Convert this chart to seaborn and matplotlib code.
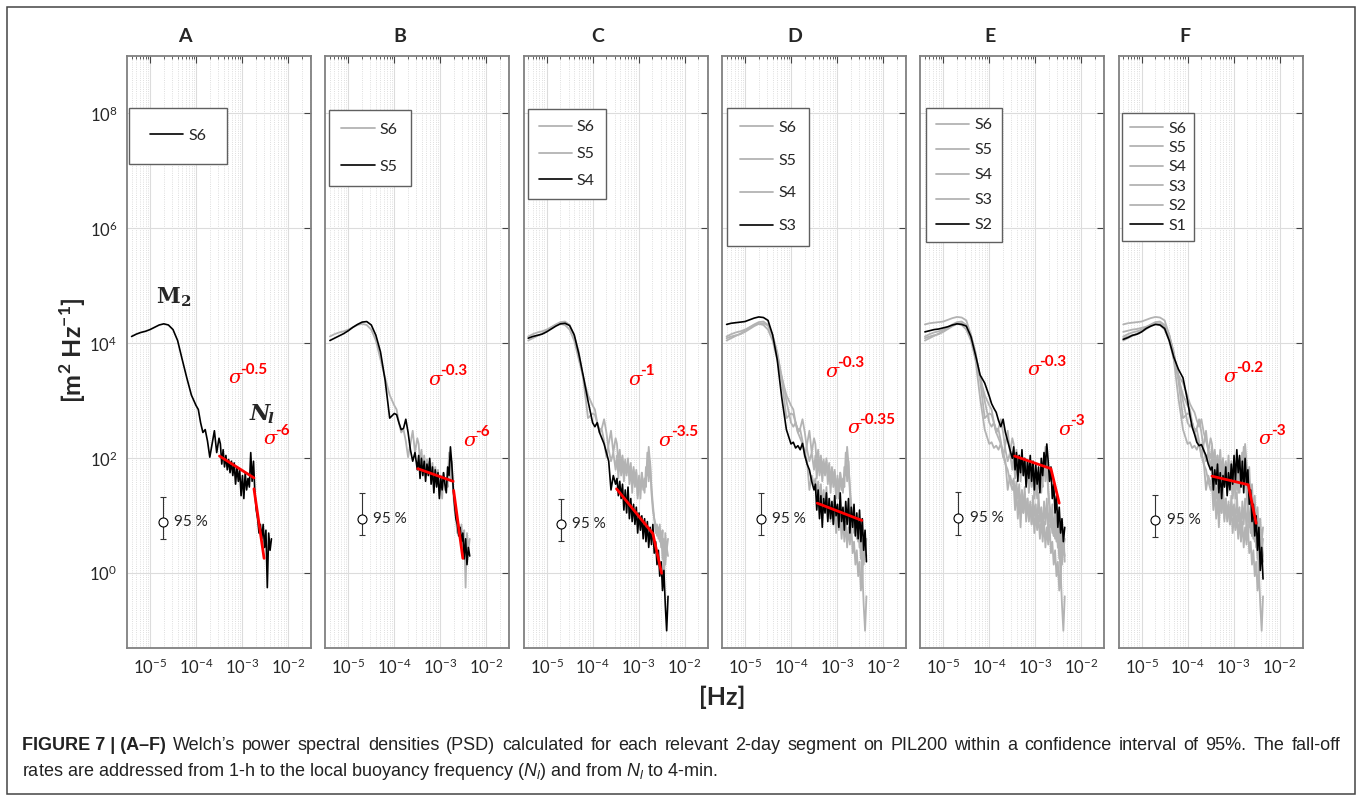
import numpy as np
import pandas as pd
import matplotlib
matplotlib.use('Agg')
import matplotlib.pyplot as plt
import seaborn as sns
from matplotlib.ticker import LogLocator, LogFormatterSciNotation, NullLocator, NullFormatter
from matplotlib.patches import Rectangle

# frequency axis of the Welch spectra, log10 [Hz]
log_freq = [-5.4, -5.3, -5.2, -5.1, -5.0, -4.9, -4.8, -4.7, -4.6, -4.5, -4.4, -4.3, -4.2,
            -4.1, -4.0, -3.95, -3.9, -3.85, -3.8, -3.75, -3.7, -3.65, -3.6, -3.55, -3.5,
            -3.47, -3.44, -3.41, -3.38, -3.35, -3.32, -3.29, -3.26, -3.23, -3.20, -3.17, -3.14,
            -3.11, -3.08, -3.05, -3.02, -2.99, -2.96, -2.93, -2.90, -2.87, -2.84, -2.81, -2.78,
            -2.75, -2.72, -2.69, -2.66, -2.63, -2.60, -2.57, -2.54, -2.51, -2.48, -2.45, -2.42,
            -2.39, -2.36]

# PSD per 2-day segment, log10 [m2 Hz-1]
psd_s6 = [4.12, 4.16, 4.19, 4.21, 4.24, 4.28, 4.32, 4.34, 4.32, 4.24, 4.05, 3.72, 3.40,
          3.10, 2.92, 2.85, 2.62, 2.45, 2.50, 2.30, 2.02, 2.25, 2.48, 2.10, 2.35,
          2.25, 1.90, 2.15, 1.85, 2.05, 1.80, 1.98, 1.75, 1.95, 1.70, 1.92, 1.55,
          1.85, 1.60, 1.80, 1.35, 1.70, 1.30, 1.75, 1.45, 1.65, 1.50, 2.10, 1.60,
          1.95, 1.40, 1.10, 0.95, 0.70, 0.85, 0.60, 0.85, 0.45, 0.75, -0.25, 0.70,
          0.40, 0.60]
psd_s5 = [4.05, 4.09, 4.13, 4.17, 4.22, 4.28, 4.33, 4.37, 4.38, 4.32, 4.14, 3.85, 3.36,
          2.70, 2.78, 2.76, 2.62, 2.50, 2.52, 2.68, 2.45, 2.15, 1.95, 2.10, 1.80,
          2.05, 1.65, 2.00, 1.70, 1.95, 1.60, 1.90, 1.70, 2.00, 1.55, 1.85, 1.40,
          1.80, 1.50, 1.75, 1.30, 1.65, 1.45, 1.75, 1.55, 1.40, 1.85, 1.70, 2.20,
          1.90, 1.50, 1.20, 0.95, 0.85, 0.65, 0.80, 0.55, 0.70, 0.25, 0.60, 0.15,
          0.45, 0.30]
psd_s4 = [4.09, 4.12, 4.14, 4.16, 4.20, 4.25, 4.30, 4.34, 4.35, 4.31, 4.15, 3.82, 3.42,
          3.00, 2.62, 2.55, 2.62, 2.45, 2.35, 2.25, 2.10, 1.95, 1.45, 1.70, 1.55,
          1.65, 1.35, 1.60, 1.30, 1.55, 1.10, 1.45, 1.05, 1.50, 0.95, 1.30, 0.90,
          1.20, 0.85, 1.15, 0.70, 1.05, 0.75, 1.00, 0.60, 0.95, 0.55, 0.90, 0.45,
          0.80, 0.50, 0.85, 0.35, 0.55, 0.15, 0.40, -0.05, 0.20, -0.30, 0.05, -0.55,
          -1.00, -0.40]
psd_s3 = [4.33, 4.35, 4.36, 4.37, 4.38, 4.41, 4.44, 4.46, 4.45, 4.40, 4.15, 3.72, 3.05,
          2.50, 2.25, 2.28, 2.18, 2.22, 2.15, 2.26, 2.05, 1.90, 1.80, 1.60, 1.45,
          1.55, 1.10, 1.45, 0.95, 1.35, 0.80, 1.30, 1.05, 1.40, 0.90, 1.30, 0.95,
          1.25, 0.85, 1.35, 1.00, 1.20, 0.80, 1.40, 0.90, 1.15, 0.75, 1.25, 0.85,
          1.30, 0.70, 1.15, 0.80, 1.20, 0.65, 1.05, 0.60, 1.10, 0.55, 0.95, 0.40,
          0.75, 0.20]
psd_s2 = [4.20, 4.22, 4.24, 4.25, 4.27, 4.29, 4.32, 4.34, 4.33, 4.30, 4.12, 3.80, 3.45,
          3.31, 3.08, 2.95, 2.87, 2.80, 2.66, 2.55, 2.68, 2.45, 2.30, 2.15, 2.00,
          2.20, 1.80, 2.10, 1.60, 2.05, 1.75, 2.15, 1.70, 2.00, 1.50, 1.95, 1.65,
          2.05, 1.60, 1.95, 1.45, 1.90, 1.55, 1.85, 1.40, 2.00, 1.70, 2.10, 1.85,
          2.25, 1.95, 1.60, 1.85, 1.30, 1.55, 1.05, 1.35, 0.80, 1.15, 0.70, 0.95,
          0.55, 0.80]
psd_s1 = [4.07, 4.10, 4.14, 4.16, 4.20, 4.26, 4.30, 4.33, 4.32, 4.26, 4.05, 3.76, 3.55,
          3.40, 3.00, 2.75, 2.54, 2.42, 2.28, 2.22, 2.24, 2.14, 2.05, 1.90, 1.80,
          1.85, 1.45, 1.80, 1.55, 1.90, 1.40, 1.75, 1.30, 1.70, 1.50, 1.85, 1.35,
          1.75, 1.45, 1.90, 1.55, 2.05, 1.60, 2.15, 1.75, 2.05, 1.50, 1.95, 1.40,
          2.00, 1.55, 1.80, 1.20, 1.45, 0.90, 1.20, 0.65, 1.00, 0.40, 0.80, 0.05,
          0.45, -0.10]

segments = ['S6', 'S5', 'S4', 'S3', 'S2', 'S1']
panels = ['A', 'B', 'C', 'D', 'E', 'F']

# fitted fall-off lines (log10 f, log10 PSD) per panel
fit_A = [[[-3.49, -2.74], [2.04, 1.66]], [[-2.74, -2.52], [1.47, 0.26]]]
fit_B = [[[-3.49, -2.72], [1.82, 1.60]], [[-2.71, -2.51], [1.44, 0.26]]]
fit_C = [[[-3.48, -2.69, -2.50], [1.47, 0.69, 0.00]]]
fit_D = [[[-3.43, -2.46], [1.22, 0.92]]]
fit_E = [[[-3.45, -2.66, -2.48], [2.04, 1.82, 1.22]]]
fit_F = [[[-3.47, -2.68, -2.51], [1.69, 1.54, 0.87]]]
fits = [fit_A, fit_B, fit_C, fit_D, fit_E, fit_F]
slope_low = ['-0.5', '-0.3', '-1', '-0.3', '-0.3', '-0.2']
slope_high = ['-6', '-6', '-3.5', '-0.35', '-3', '-3']

# 95 % confidence marker (log10)
ci_f = [-4.71, -4.70, -4.69, -4.65, -4.67, -4.70]
ci_mid = [0.89, 0.94, 0.86, 0.94, 0.96, 0.93]
ci_top = [1.32, 1.39, 1.30, 1.40, 1.41, 1.37]
ci_bot = [0.59, 0.66, 0.57, 0.66, 0.67, 0.63]

caption_head = 'FIGURE 7 | (A\u2013F)'
caption_1 = ('Welch\u2019s power spectral densities (PSD) calculated for each relevant 2-day segment '
             'on PIL200 within a confidence interval of 95%. The fall-off')
caption_2 = r'rates are addressed from 1-h to the local buoyancy frequency ($N_l$) and from $N_l$ to 4-min.'

df = pd.DataFrame({'freq': np.power(10.0, log_freq)})
for name, vals in zip(segments, [psd_s6, psd_s5, psd_s4, psd_s3, psd_s2, psd_s1]):
    df[name] = np.power(10.0, vals)

sns.set_style('white')
plt.rcParams['font.family'] = ['Lato', 'DejaVu Sans']
plt.rcParams['mathtext.fontset'] = 'custom'
plt.rcParams['mathtext.rm'] = 'Liberation Sans'
plt.rcParams['mathtext.it'] = 'Liberation Sans:italic'
plt.rcParams['mathtext.bf'] = 'Liberation Sans:bold'

W, H = 1362, 801
fig = plt.figure(figsize=(W / 100, H / 100), dpi=100)
fig.patches.append(Rectangle((7 / W, 7 / H), (W - 14) / W, (H - 14) / H, transform=fig.transFigure,
                             fill=False, edgecolor='#444444', lw=1.1))

ax_left = [127, 325.3, 523.6, 722, 920.3, 1118.6]
ax_w, ax_top, ax_bot = 184, 56, 648
title_x = [185, 400, 598, 795, 990, 1185]
leg_anchor = [(0.011, 0.912), (0.018, 0.909), (0.022, 0.910), (0.027, 0.912), (0.031, 0.912), (0.017, 0.903)]
leg_pad = [1.3, 0.8, 0.68, 0.8, 0.62, 0.5]
leg_space = [0.5, 1.42, 0.79, 1.16, 0.68, 0.33]
sig_low = [(-3.30, 3.43), (-3.26, 3.41), (-3.23, 3.41), (-3.26, 3.55), (-3.18, 3.57), (-3.21, 3.46)]
sig_high = [(-2.54, 2.37), (-2.50, 2.35), (-2.56, 2.35), (-2.78, 2.56), (-2.50, 2.54), (-2.45, 2.37)]


def sigma_label(ax, pos, expo):
    xy = (10 ** pos[0], 10 ** (pos[1] - 0.04))
    ax.annotate('\u03c3', xy, ha='left', va='center', color='red', fontsize=14,
                family='DejaVu Serif', style='italic')
    ax.annotate(expo, xy, xytext=(8.8, 6.3), textcoords='offset points', ha='left', va='center',
                color='red', fontsize=11, fontweight='bold')


for i, p in enumerate(panels):
    ax = fig.add_axes([ax_left[i] / W, 1 - ax_bot / H, ax_w / W, (ax_bot - ax_top) / H])
    shown = segments[:i + 1]
    for j, s in enumerate(shown):
        last = j == len(shown) - 1
        sns.lineplot(data=df, x='freq', y=s, ax=ax, color='black' if last else '#b3b3b3',
                     lw=1.2 if last else 1.3, label=s, zorder=3 if last else 2)
    for seg in fits[i]:
        sns.lineplot(x=np.power(10.0, seg[0]), y=np.power(10.0, seg[1]), ax=ax,
                     color='#ff0000', lw=2.0, zorder=4, legend=False)

    ax.errorbar([10 ** ci_f[i]], [10 ** ci_mid[i]],
                yerr=[[10 ** ci_mid[i] - 10 ** ci_bot[i]], [10 ** ci_top[i] - 10 ** ci_mid[i]]],
                fmt='o', mfc='white', mec='black', mew=0.8, ms=6.5, ecolor='#333333',
                elinewidth=0.8, capsize=2.5, capthick=0.8, zorder=5)
    ax.annotate('95 %', (10 ** ci_f[i], 10 ** ci_mid[i]), xytext=(8, 0), textcoords='offset points',
                ha='left', va='center', fontsize=11, color='#222222')

    sigma_label(ax, sig_low[i], slope_low[i])
    sigma_label(ax, sig_high[i], slope_high[i])

    ax.set_xscale('log')
    ax.set_yscale('log')
    ax.set_xlim(10 ** -5.5, 10 ** -1.5)
    ax.set_ylim(10 ** -1.3, 1e9)
    ax.xaxis.set_major_locator(LogLocator(base=10, numticks=10))
    ax.xaxis.set_minor_locator(LogLocator(base=10, subs=np.arange(2, 10), numticks=60))
    ax.xaxis.set_minor_formatter(NullFormatter())
    ax.yaxis.set_major_locator(LogLocator(base=100, numticks=10))
    ax.yaxis.set_major_formatter(LogFormatterSciNotation(base=10))
    ax.yaxis.set_minor_locator(NullLocator())
    ax.grid(which='major', color='#dcdcdc', lw=0.8)
    ax.grid(which='minor', axis='x', color='#d3d3d3', lw=0.6, ls=':')
    ax.tick_params(which='both', direction='in', top=True, right=True, color='#444444',
                   labelcolor='#262626')
    ax.tick_params(which='major', length=5, width=0.8, labelsize=12, pad=7)
    ax.tick_params(which='minor', length=2.5, width=0.6)
    if i > 0:
        ax.tick_params(labelleft=False)
    for sp in ax.spines.values():
        sp.set_color('#808080')
        sp.set_linewidth(1.3)
    ax.set_xlabel('')
    ax.set_ylabel('')

    leg = ax.legend(loc='upper left', bbox_to_anchor=leg_anchor[i], borderaxespad=0,
                    fancybox=False, edgecolor='#606060', framealpha=1, fontsize=11.5,
                    handlelength=2.1, handletextpad=0.3, borderpad=leg_pad[i],
                    labelspacing=leg_space[i])
    leg.get_frame().set_linewidth(1.0)

    fig.text(title_x[i] / W, 1 - 37 / H, p, fontsize=14, fontweight='bold', ha='center', va='center')

    if i == 0:
        ax.text(10 ** -4.87, 10 ** 4.80, r'$\mathbf{M_2}$', fontsize=15.5, ha='left', va='center',
                math_fontfamily='dejavuserif')
        ax.text(10 ** -2.826, 10 ** 2.77, 'N', fontsize=16, family='DejaVu Serif', style='italic',
                weight='bold', ha='left', va='center')
        ax.text(10 ** -2.45, 10 ** 2.69, 'l', fontsize=11, family='DejaVu Serif', style='italic',
                weight='bold', ha='left', va='center')

fig.text(73 / W, 1 - 350 / H, r'[m$^{\mathdefault{2}}$ Hz$^{\mathdefault{-1}}$]', rotation=90,
         fontsize=18, fontweight='bold', ha='center', va='center')
fig.text(722 / W, 1 - 697 / H, '[Hz]', fontsize=18, fontweight='bold', ha='center', va='center')

# caption: first line justified between the frame margins
cap_size = 13.0
words = [(caption_head, 'bold')] + [(w, 'normal') for w in caption_1.split(' ')]
objs = [fig.text(0, 1 - 745 / H, w, fontsize=cap_size, fontweight=wt, family='Liberation Sans',
                 color='#222222', va='center') for w, wt in words]
renderer = fig.canvas.get_renderer()
widths = [o.get_window_extent(renderer=renderer).width for o in objs]
gap = (1340 - 22 - sum(widths)) / (len(objs) - 1)
xpos = 22
for o, w in zip(objs, widths):
    o.set_x(xpos / W)
    xpos += w + gap
fig.text(22 / W, 1 - 772 / H, caption_2, fontsize=cap_size, family='Liberation Sans',
         color='#222222', va='center')

fig.savefig('out.png', dpi=100)
